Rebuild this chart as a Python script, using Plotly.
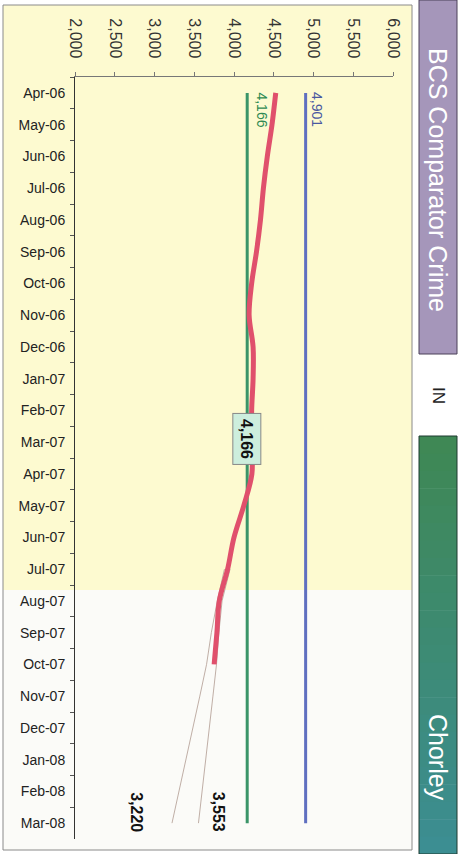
import plotly.graph_objects as go

months = ["Apr-06", "May-06", "Jun-06", "Jul-06", "Aug-06", "Sep-06", "Oct-06", "Nov-06",
          "Dec-06", "Jan-07", "Feb-07", "Mar-07", "Apr-07", "May-07", "Jun-07", "Jul-07",
          "Aug-07", "Sep-07", "Oct-07", "Nov-07", "Dec-07", "Jan-08", "Feb-08", "Mar-08"]

crime_months = months[:19]
crime_values = [4525, 4478, 4419, 4370, 4333, 4283, 4222, 4190, 4240, 4240,
                4222, 4222, 4225, 4123, 4000, 3920, 3815, 3785, 3750]

band_months = ["Jul-07", "Aug-07", "Sep-07", "Oct-07", "Nov-07", "Dec-07", "Jan-08", "Feb-08", "Mar-08"]
band_lower = [3880, 3790, 3715, 3655, 3570, 3483, 3396, 3308, 3220]
band_upper = [3950, 3850, 3810, 3780, 3735, 3690, 3645, 3600, 3553]

comparator_value = 4901
chorley_target = 4166

x_ticks = [2000, 2500, 3000, 3500, 4000, 4500, 5000, 5500, 6000]
x_ticktext = ["2,000", "2,500", "3,000", "3,500", "4,000", "4,500", "5,000", "5,500", "6,000"]

FONT = "Liberation Sans, Arial, Helvetica, sans-serif"
W, H = 461, 854
L, R, T, B = 75, 393, 77, 839


def px(p):
    return (p - L) / (R - L)


def py(p):
    return (B - p) / (B - T)


fig = go.Figure()

fig.add_trace(go.Scatter(x=[comparator_value] * len(months), y=months, mode="lines",
                         line=dict(color="#5f6fc0", width=3), hoverinfo="skip"))
fig.add_trace(go.Scatter(x=[chorley_target] * len(months), y=months, mode="lines",
                         line=dict(color="#3a9468", width=3), hoverinfo="skip"))
fig.add_trace(go.Scatter(x=band_lower, y=band_months, mode="lines",
                         line=dict(color="#b09a90", width=0.8), hoverinfo="skip"))
fig.add_trace(go.Scatter(x=band_upper, y=band_months, mode="lines",
                         line=dict(color="#b09a90", width=0.8), hoverinfo="skip"))
fig.add_trace(go.Scatter(x=crime_values, y=crime_months, mode="lines",
                         line=dict(color="#e0506c", width=5, shape="spline", smoothing=1.0),
                         hoverinfo="skip"))

shapes = []
shapes.append(dict(type="rect", xref="paper", yref="paper", layer="below",
                   x0=px(3), x1=px(412), y0=py(5), y1=py(590),
                   fillcolor="#fdfad0", line=dict(width=0)))
shapes.append(dict(type="rect", xref="paper", yref="paper", layer="below",
                   x0=px(3), x1=px(412), y0=py(590), y1=py(850),
                   fillcolor="#fbfbf8", line=dict(width=0)))
shapes.append(dict(type="rect", xref="paper", yref="paper", layer="below",
                   x0=px(3), x1=px(412), y0=py(5), y1=py(850),
                   fillcolor="rgba(0,0,0,0)", line=dict(color="#8a8a8a", width=1)))
shapes.append(dict(type="rect", xref="paper", yref="paper",
                   x0=px(419), x1=px(457), y0=py(0), y1=py(354),
                   fillcolor="#a596ba", line=dict(color="#4a4058", width=1)))
n = 24
top, bot = 436, 854
c0 = (0x3f, 0x88, 0x55)
c1 = (0x3c, 0x8e, 0x92)
for i in range(n):
    t = i / (n - 1)
    c = tuple(int(c0[k] + (c1[k] - c0[k]) * t) for k in range(3))
    y0 = top + (bot - top) * i / n
    y1 = top + (bot - top) * (i + 1) / n + 0.5
    shapes.append(dict(type="rect", xref="paper", yref="paper",
                       x0=px(419), x1=px(457), y0=py(y0), y1=py(y1),
                       fillcolor="rgb(%d,%d,%d)" % c, line=dict(width=0)))
shapes.append(dict(type="rect", xref="paper", yref="paper",
                   x0=px(419), x1=px(457), y0=py(436), y1=py(854),
                   fillcolor="rgba(0,0,0,0)", line=dict(color="#1f3a30", width=1)))

C = dict(xanchor="center", yanchor="middle", showarrow=False, textangle=90)
annotations = [
    dict(x=comparator_value, y="May-06", text="4,901", xshift=12, yshift=15,
         font=dict(family=FONT, size=14, color="#4a58a0"), **C),
    dict(x=chorley_target, y="May-06", text="4,166", xshift=15, yshift=15,
         font=dict(family=FONT, size=14, color="#2f8a52"), **C),
    dict(x=chorley_target, y="Mar-07", text="<b>4,166</b>",
         font=dict(family=FONT, size=16, color="#111"), bgcolor="#cdeedd",
         bordercolor="#888", borderwidth=1, borderpad=5, yshift=3, **C),
    dict(x=band_upper[-1], y="Mar-08", text="<b>3,553</b>", xshift=20, yshift=11,
         font=dict(family=FONT, size=16, color="#111"), **C),
    dict(x=band_lower[-1], y="Mar-08", text="<b>3,220</b>", xshift=-35, yshift=11,
         font=dict(family=FONT, size=16, color="#111"), **C),
    dict(xref="paper", yref="paper", x=px(438), y=py(180), text="BCS Comparator Crime",
         font=dict(family=FONT, size=25, color="#ffffff"), **C),
    dict(xref="paper", yref="paper", x=px(439), y=py(395), text="IN",
         font=dict(family=FONT, size=17, color="#222"), **C),
    dict(xref="paper", yref="paper", x=px(438), y=py(757), text="Chorley",
         font=dict(family=FONT, size=25, color="#ffffff"), **C),
]

fig.update_layout(
    width=W, height=H,
    margin=dict(l=L, r=W - R, t=T, b=H - B, pad=0),
    paper_bgcolor="#ffffff",
    plot_bgcolor="rgba(0,0,0,0)",
    showlegend=False,
    shapes=shapes,
    annotations=annotations,
    font=dict(family=FONT),
    xaxis=dict(side="top", range=[2000, 6000], tickvals=x_ticks, ticktext=x_ticktext,
               tickangle=90, showgrid=False, zeroline=False, showline=True,
               linecolor="#777", linewidth=1, ticks="outside", ticklen=4, tickcolor="#777",
               ticklabelstandoff=8,
               tickfont=dict(family=FONT, size=16, color="#333"), automargin=False),
    yaxis=dict(type="category", categoryorder="array", categoryarray=months,
               range=[len(months) - 0.5, -0.5], showgrid=False, zeroline=False,
               showline=True, linecolor="#333", linewidth=1, ticks="outside", ticklen=4,
               tickcolor="#555", tickson="boundaries", automargin=False,
               ticklabelstandoff=6,
               tickfont=dict(family=FONT, size=14, color="#222")),
)

fig.write_html("out.html", config={"displayModeBar": False},
               post_script="document.body.style.margin='0';")
